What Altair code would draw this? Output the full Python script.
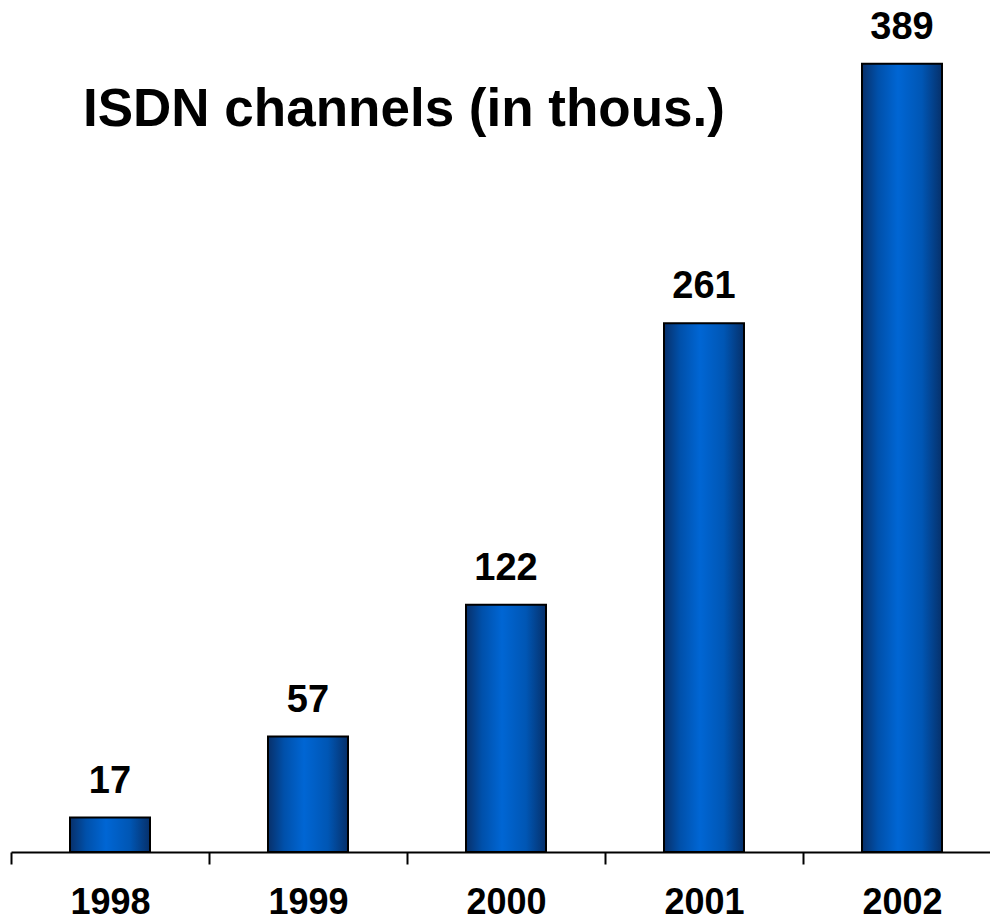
import altair as alt
import pandas as pd

years = ["1998", "1999", "2000", "2001", "2002"]
values = [17, 57, 122, 261, 389]
title_text = "ISDN channels (in thous.)"

df = pd.DataFrame({"year": years, "value": values})

FONT = "Liberation Sans"

grad = alt.Gradient(
    gradient="linear",
    x1=0, x2=1, y1=0, y2=0,
    stops=[
        alt.GradientStop(color="#08306a", offset=0),
        alt.GradientStop(color="#0050aa", offset=0.2),
        alt.GradientStop(color="#0066d4", offset=0.45),
        alt.GradientStop(color="#0056b4", offset=0.75),
        alt.GradientStop(color="#06306a", offset=1),
    ],
)

x = alt.X(
    "year:N",
    sort=years,
    scale=alt.Scale(range=[0, 990], paddingInner=0, paddingOuter=0),
    axis=alt.Axis(
        title=None,
        labelAngle=0,
        labelFont=FONT,
        labelFontWeight="bold",
        labelFontSize=36,
        labelColor="black",
        labelBaseline="alphabetic",
        labelPadding=49,
        domainColor="black",
        domainWidth=2,
        tickColor="black",
        tickWidth=2,
        tickSize=12,
        tickBand="extent",
        grid=False,
    ),
)
y = alt.Y("value:Q", scale=alt.Scale(domain=[0, 420], nice=False), axis=None)

base = alt.Chart(df)

bars = base.mark_bar(color=grad, stroke="black", strokeWidth=2, size=80).encode(x=x, y=y)

labels = base.mark_text(
    font=FONT, fontWeight="bold", fontSize=38, color="black",
    baseline="alphabetic", dy=-25,
).encode(x=x, y=y, text="value:Q")

title = alt.Chart(pd.DataFrame({"t": [title_text]})).mark_text(
    font=FONT, fontWeight="bold", fontSize=53, color="black",
    align="left", baseline="alphabetic",
).encode(x=alt.value(72), y=alt.value(125), text="t:N")

chart = alt.layer(bars, labels, title).properties(
    width=979,
    height=851,
    background="white",
    autosize=alt.AutoSizeParams(type="none"),
    padding={"left": 11, "top": 1, "right": 0, "bottom": 67},
).configure_view(stroke=None)

chart.save("out.html", embed_options={"renderer": "svg", "actions": False})
